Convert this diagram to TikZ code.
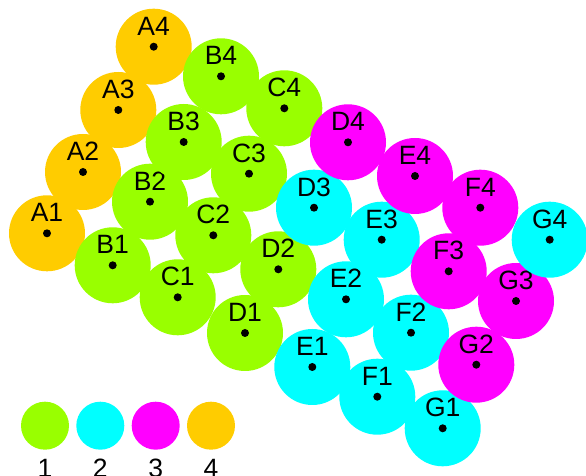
\documentclass[tikz,border=0pt]{standalone}
\usepackage{fontspec}
\setmainfont{Liberation Sans}
\definecolor{cg}{HTML}{99FF00}
\definecolor{cc}{HTML}{00FFFF}
\definecolor{cm}{HTML}{FF00FF}
\definecolor{co}{HTML}{FFCC00}
\begin{document}
\begin{tikzpicture}[x=1pt,y=1pt,
  ball/.style={circle,minimum size=76pt,inner sep=0pt,fill=#1},
  dotc/.style={circle,fill=black,minimum size=8pt,inner sep=0pt},
  lab/.style={anchor=base,inner sep=0pt,font=\fontsize{26.5}{30}\selectfont},
  leg/.style={circle,minimum size=48pt,inner sep=0pt,fill=#1}]
\useasboundingbox (0,0) rectangle (586,476);
\begin{scope}
\clip (0,0) rectangle (586,476);
\foreach \n/\x/\y/\c in {
  A1/47/233.3/co, A2/83/172/co, A3/118.3/110/co, A4/153.7/46.7/co,
  B1/112.7/265.3/cg, B2/150/201.7/cg, B3/183.7/142/cg, B4/221/76.3/cg,
  C1/177.7/297.3/cg, C2/213.3/235.3/cg, C3/249/173.7/cg, C4/284.3/108.3/cg,
  D1/245/333/cg, D2/278.3/269.3/cg, D3/314/207.7/cc, D4/348/142.3/cm,
  E1/312.3/367/cc, E2/346/299.3/cc, E3/381.7/239.7/cc, E4/415/176/cm,
  F1/377.3/396.7/cc, F2/411/332.7/cc, F3/448.7/271.3/cm, F4/480.3/207.7/cm,
  G1/442.7/428.3/cc, G2/476.3/364.7/cm, G3/516/301/cm, G4/549.7/239.7/cc}{
  \node[ball=\c] (b\n) at (\x,476-\y) {};
  \node[dotc] (d\n) at (b\n.center) {};
  \node[lab] (l\n) at ([yshift=11.5pt]b\n.center) {\n};
}
\foreach \i/\x/\c in {1/45/cg, 2/100.3/cc, 3/155.7/cm, 4/211/co}{
  \node[leg=\c] (k\i) at (\x,476-425.7) {};
  \node[lab] (t\i) at (\x,-2) {\i};
}
\end{scope}
\end{tikzpicture}
\end{document}
